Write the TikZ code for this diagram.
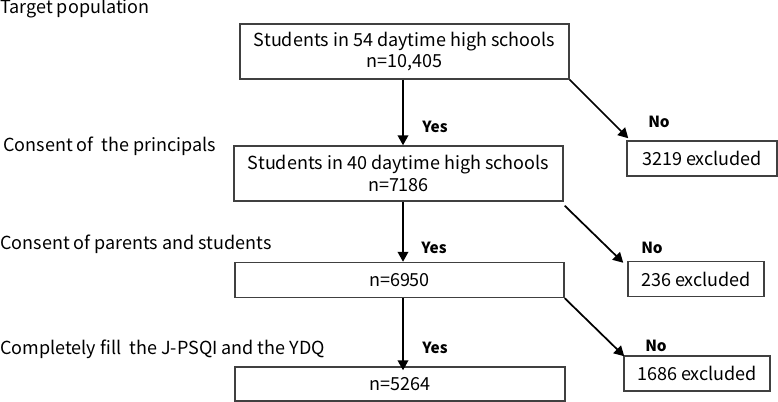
\documentclass[tikz,border=0pt]{standalone}
\usepackage{fontspec}
\setmainfont{Noto Sans CJK JP}
\usetikzlibrary{arrows.meta}
\begin{document}
\begin{tikzpicture}[x=0.75pt,y=-0.75pt,
  txt/.style={font=\fontsize{13.5}{16}\selectfont, text=black},
  box/.style={txt, draw=black!75, line width=1.1pt, inner sep=0pt, align=center},
  lbl/.style={txt, anchor=base west, inner sep=0pt},
  yn/.style={font=\fontsize{11.5}{13}\selectfont\bfseries, inner sep=0pt},
  arr/.style={-{Triangle[length=7.5pt,width=8pt]}, line width=1.3pt}]
\useasboundingbox (0,0) rectangle (778,402);
% main boxes
\node[box, minimum width=329*0.75pt, minimum height=55*0.75pt] (b1) at (404.5,51.5) {Students in 54 daytime high schools\\n=10,405};
\node[box, minimum width=329*0.75pt, minimum height=55*0.75pt] (b2) at (398.5,173.5) {Students in 40 daytime high schools\\n=7186};
\node[box, minimum width=329*0.75pt, minimum height=35*0.75pt] (b3) at (399.5,280) {n=6950};
\node[box, minimum width=330*0.75pt, minimum height=34*0.75pt] (b4) at (400,384) {n=5264};
% excluded boxes
\node[box, minimum width=150*0.75pt, minimum height=35*0.75pt] (ea) at (702,158.5) {3219 excluded};
\node[box, minimum width=136*0.75pt, minimum height=35*0.75pt] (eb) at (696,279) {236 excluded};
\node[box, minimum width=146*0.75pt, minimum height=35*0.75pt] (ec) at (697,373.5) {1686 excluded};
% left labels
\node[lbl] (l1) at (0,14) {Target population};
\node[lbl] (l2) at (3,152) {Consent of\ \ the principals};
\node[lbl] (l3) at (0,250) {Consent of parents and students};
\node[lbl] (l4) at (0,355) {Completely fill\ \ the J-PSQI and the YDQ};
% yes / no
\node[yn] (y1) at (435,127) {Yes};
\node[yn] (y2) at (434,248) {Yes};
\node[yn] (y3) at (435,348) {Yes};
\node[yn] (n1) at (659,122) {No};
\node[yn] (n2) at (652,248) {No};
\node[yn] (n3) at (656,346) {No};
% arrows
\coordinate (ax) at (403,0);
\draw[arr] (b1.south -| ax) -- (b2.north -| ax);
\draw[arr] (b2.south -| ax) -- (b3.north -| ax);
\draw[arr] (b3.south -| ax) -- ([yshift=-3pt]b4.north -| ax);
\draw[arr] (b1.south east) -- ([shift={(2,-2)}]ea.north west);
\draw[arr] ([shift={(1,4)}]b2.south east) -- ([shift={(-4,2)}]eb.north west);
\draw[arr] (b3.south east) -- ([shift={(1,1)}]ec.north west);
\end{tikzpicture}
\end{document}
